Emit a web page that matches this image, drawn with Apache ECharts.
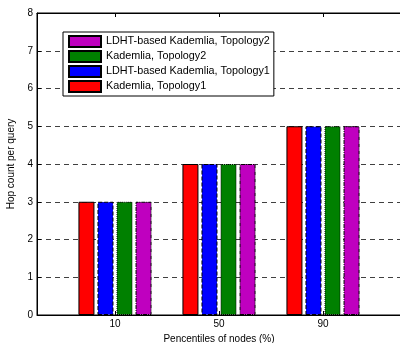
<!DOCTYPE html>
<html style="height: 100%">
<head>
  <meta charset="utf-8">
</head>
<body style="height: 100%; margin: 0; background: #fff">
  <div id="container" style="width: 400px; height: 343px"></div>
  <script src="https://cdn.jsdelivr.net/npm/echarts@6/dist/echarts.min.js"></script>
  <script>
    // data
    var percentiles = ['10', '50', '90'];
    var positions = [1, 2, 3];
    var kadTopo1 = [3, 4, 5];
    var ldhtTopo1 = [3, 4, 5];
    var kadTopo2 = [3, 4, 5];
    var ldhtTopo2 = [3, 4, 5];
    var seriesNames = [
      'Kademlia, Topology1',
      'LDHT-based Kademlia, Topology1',
      'Kademlia, Topology2',
      'LDHT-based Kademlia, Topology2'
    ];

    var font = 'Liberation Sans, Arial, sans-serif';
    var chart = echarts.init(document.getElementById('container'), null, { renderer: 'canvas' });

    function pts(vals) {
      return vals.map(function (v, i) { return [positions[i], v]; });
    }

    function bar(name, vals, color, dash) {
      return {
        name: name,
        type: 'bar',
        barWidth: 16,
        barGap: '19%',
        data: pts(vals),
        itemStyle: { color: color, borderColor: '#000', borderWidth: 1, borderType: dash },
        emphasis: { disabled: true }
      };
    }

    var option = {
      animation: false,
      textStyle: { fontFamily: font },
      grid: {
        left: 37, right: -1, top: 13, bottom: 28,
        containLabel: false, outerBoundsMode: 'none',
        show: true, borderColor: '#000', borderWidth: 1
      },
      legend: {
        orient: 'vertical',
        left: 63,
        top: 32,
        data: seriesNames.slice().reverse(),
        itemWidth: 32,
        itemHeight: 11,
        itemGap: 2,
        padding: [3, 4, 3, 5],
        backgroundColor: '#fff',
        borderColor: '#000',
        borderWidth: 1,
        icon: 'rect',
        textStyle: { fontSize: 10.8, color: '#000', fontFamily: font }
      },
      xAxis: [{
        type: 'value',
        min: 0.25,
        max: 3.75,
        name: 'Pencentiles of nodes (%)',
        nameLocation: 'middle',
        nameGap: 14,
        nameTextStyle: { fontSize: 10, color: '#000' },
        axisLine: { lineStyle: { color: '#000' } },
        axisTick: { inside: true, length: 4, customValues: positions, lineStyle: { color: '#000' } },
        axisLabel: {
          customValues: positions,
          fontSize: 10,
          color: '#000',
          margin: 4,
          formatter: function (v) { return percentiles[positions.indexOf(v)]; }
        },
        splitLine: { show: false }
      }, {
        type: 'value',
        position: 'top',
        min: 0.25,
        max: 3.75,
        axisLine: { show: true, lineStyle: { color: '#000' } },
        axisTick: { inside: true, length: 4, customValues: positions, lineStyle: { color: '#000' } },
        axisLabel: { show: false },
        splitLine: { show: false }
      }],
      yAxis: {
        type: 'value',
        min: 0,
        max: 8,
        interval: 1,
        name: 'Hop count per query',
        nameLocation: 'middle',
        nameGap: 17,
        nameTextStyle: { fontSize: 10, color: '#000' },
        axisLine: { show: true, lineStyle: { color: '#000' } },
        axisTick: { show: true, inside: true, length: 4, lineStyle: { color: '#000' } },
        axisLabel: { fontSize: 10, color: '#000', margin: 4 },
        splitLine: { show: true, lineStyle: { color: '#404040', type: [5, 4], width: 1 } }
      },
      series: [
        bar(seriesNames[0], kadTopo1, '#ff0000', 'solid'),
        bar(seriesNames[1], ldhtTopo1, '#0000ff', [4, 2]),
        bar(seriesNames[2], kadTopo2, '#008000', [1, 1]),
        bar(seriesNames[3], ldhtTopo2, '#bf00bf', [4, 1, 1, 1])
      ]
    };

    chart.setOption(option);
  </script>
</body>
</html>
